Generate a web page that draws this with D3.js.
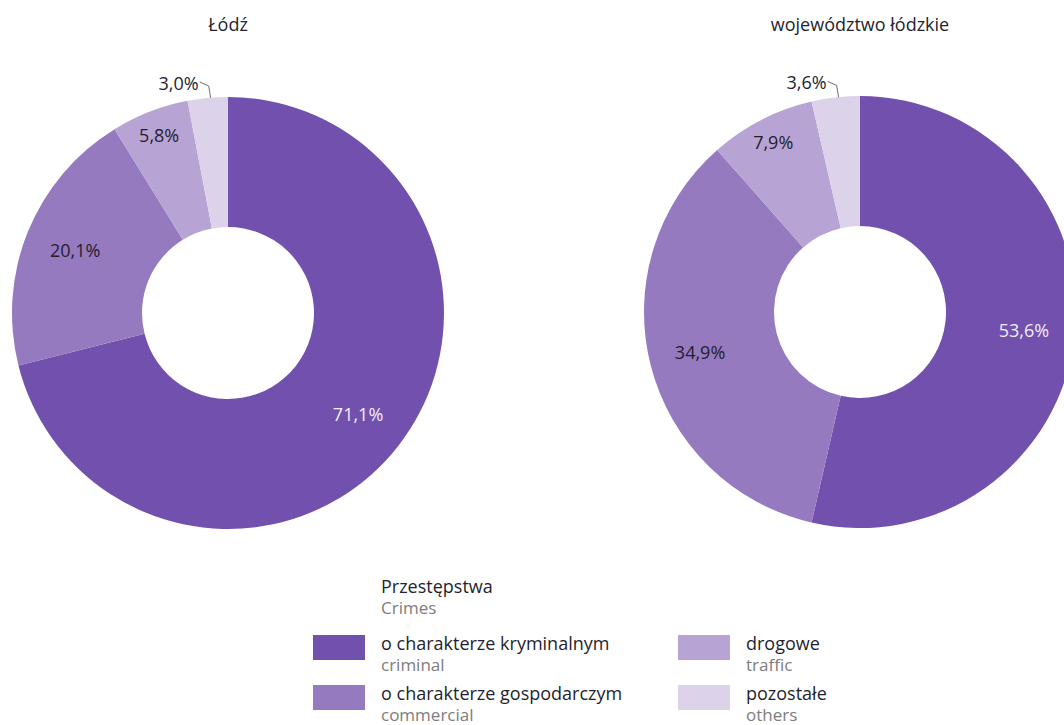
<!DOCTYPE html>
<html>
<head>
<meta charset="utf-8">
<script src="https://cdn.jsdelivr.net/npm/d3@7"></script>
<style>
  body { margin: 0; background: #fff; }
  svg { display: block; font-family: 'Open Sans', sans-serif; }
</style>
</head>
<body>
<svg width="1064" height="725"></svg>
<script>
// Crime categories (Polish label, English label)
const categoriesPl = ['o charakterze kryminalnym', 'o charakterze gospodarczym', 'drogowe', 'pozostałe']
const categoriesEn = ['criminal', 'commercial', 'traffic', 'others']
// Share of detected crimes, %
const lodzValues = [71.1, 20.1, 5.8, 3.0]
const voivodeshipValues = [53.6, 34.9, 7.9, 3.6]
const chartTitles = ['Łódź', 'województwo łódzkie']

const colors = ['#7250ad', '#957abf', '#b8a3d5', '#dcd2ea']
const outerRadius = 216
const innerRadius = 86

const svg = d3.select('svg')
const color = d3.scaleOrdinal().domain(categoriesEn).range(colors)
const pie = d3.pie().sort(null).value((d) => d.value)
const arc = d3.arc().innerRadius(innerRadius).outerRadius(outerRadius)

const fmt = (v) => d3.format('.1f')(v).replace('.', ',') + '%'

const charts = [
  { title: chartTitles[0], values: lodzValues, cx: 228, cy: 313 },
  { title: chartTitles[1], values: voivodeshipValues, cx: 860, cy: 312 },
]

charts.forEach((chart) => {
  const data = chart.values.map((value, i) => ({ key: categoriesEn[i], value }))
  const g = svg.append('g').attr('transform', `translate(${chart.cx},${chart.cy})`)

  svg
    .append('text')
    .attr('x', chart.cx)
    .attr('y', 31)
    .attr('text-anchor', 'middle')
    .attr('font-size', 18)
    .attr('fill', '#231f2e')
    .text(chart.title)

  const arcs = pie(data)

  g.selectAll('path')
    .data(arcs)
    .enter()
    .append('path')
    .attr('d', arc)
    .attr('fill', (d) => color(d.data.key))

  // Labels: big slices inside the ring, small ones nearer the rim,
  // the smallest one outside with a leader line
  arcs.forEach((d) => {
    const mid = (d.startAngle + d.endAngle) / 2
    const v = d.data.value
    if (v < 5) {
      const px = Math.sin(mid) * outerRadius
      const py = -Math.cos(mid) * outerRadius
      g.append('path')
        .attr('d', `M${px + 3},${py} L${px + 1},${py - 12} L${px - 8},${py - 16}`)
        .attr('fill', 'none')
        .attr('stroke', '#6f6f6f')
        .attr('stroke-width', 1)
      g.append('text')
        .attr('x', px - 9)
        .attr('y', py - 8)
        .attr('text-anchor', 'end')
        .attr('font-size', 18)
        .attr('fill', '#231f2e')
        .text(fmt(v))
      return
    }
    const r = v < 10 ? 190 : 165
    g.append('text')
      .attr('x', Math.sin(mid) * r)
      .attr('y', -Math.cos(mid) * r)
      .attr('dy', '0.35em')
      .attr('text-anchor', 'middle')
      .attr('font-size', 18)
      .attr('fill', d.index === 0 ? '#f1eef7' : '#231f2e')
      .text(fmt(v))
  })
})

// Legend
const legend = svg.append('g')
legend
  .append('text')
  .attr('x', 381)
  .attr('y', 593)
  .attr('font-size', 18)
  .attr('fill', '#231f2e')
  .text('Przestępstwa')
legend
  .append('text')
  .attr('x', 381)
  .attr('y', 614)
  .attr('font-size', 17)
  .attr('fill', '#7d7d7d')
  .text('Crimes')

const items = legend
  .selectAll('g.item')
  .data(categoriesEn)
  .enter()
  .append('g')
  .attr('class', 'item')
  .attr('transform', (_, i) => `translate(${i < 2 ? 313 : 678},${635 + (i % 2) * 50})`)

items
  .append('rect')
  .attr('width', 52)
  .attr('height', 25)
  .attr('fill', (d) => color(d))
items
  .append('text')
  .attr('x', 68)
  .attr('y', 15)
  .attr('font-size', 18)
  .attr('fill', '#231f2e')
  .text((_, i) => categoriesPl[i])
items
  .append('text')
  .attr('x', 68)
  .attr('y', 36)
  .attr('font-size', 17)
  .attr('fill', '#7d7d7d')
  .text((d) => d)
</script>
</body>
</html>
